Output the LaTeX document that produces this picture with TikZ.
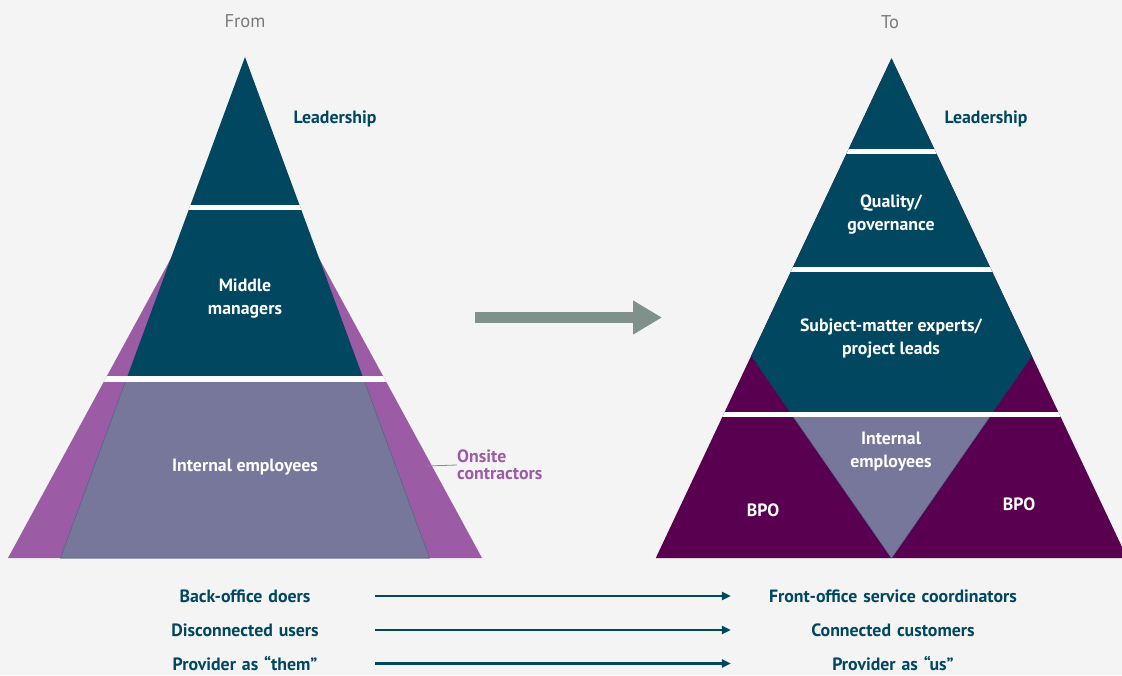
\documentclass[tikz,border=0pt]{standalone}
\usepackage{fontspec}
\setmainfont{PT Sans}
\usetikzlibrary{arrows.meta}

\definecolor{bg}{HTML}{F4F4F4}
\definecolor{deepteal}{HTML}{00475F}
\definecolor{onsite}{HTML}{9B5BA5}
\definecolor{lavender}{HTML}{77779B}
\definecolor{bpo}{HTML}{5A0050}
\definecolor{shiftgray}{HTML}{7F918A}
\definecolor{caption}{HTML}{7A7A7A}

\begin{document}
\begin{tikzpicture}[x=1pt, y=-1pt, >={Triangle[length=9pt,width=8pt]},
    tier/.style={text=white, font=\bfseries\fontsize{17.8}{23}\selectfont, align=center, inner sep=0pt},
    side/.style={text=deepteal, font=\bfseries\fontsize{17.8}{23}\selectfont, inner sep=0pt},
    head/.style={text=caption, font=\fontsize{18.5}{22}\selectfont, inner sep=0pt},
    row/.style={text=deepteal, font=\bfseries\fontsize{17.8}{20}\selectfont, align=center, inner sep=0pt},
    gap/.style={white, line width=5.4pt},
    edge/.style={draw=lavender!75!deepteal, line width=0.6pt}]
    \useasboundingbox (0,0) rectangle (1122,675);
    \fill[bg] (0,0) rectangle (1122,675);

    % from: leadership, middle managers, internal staff + onsite contractors
    \fill[onsite] (245,122) -- (482,558) -- (8,558) -- cycle;
    \fill[deepteal] (245,57) -- (429.5,558) -- (60.5,558) -- cycle;
    \filldraw[fill=lavender, edge] (126.5,378.8) -- (363.5,378.8) -- (429.5,558) -- (60.5,558) -- cycle;
    \begin{scope}
        \clip (245,122) -- (482,558) -- (8,558) -- cycle (245,57) -- (429.5,558) -- (60.5,558) -- cycle;
        \draw[gap] (0,207.3) -- (500,207.3);
        \draw[gap] (0,378.8) -- (500,378.8);
    \end{scope}

    % to: narrower core, BPO on both flanks
    \fill[bpo] (891.5,58.3) -- (1127.2,558) -- (655.8,558) -- cycle;
    \begin{scope}
        \clip (891.5,58.3) -- (1127.2,558) -- (655.8,558) -- cycle;
        \fill[deepteal] (891.5,558) -- (544,58) -- (1239,58) -- cycle;
        \filldraw[fill=lavender, edge] (891.5,558) -- (791.8,414.5) -- (991.2,414.5) -- cycle;
        \foreach \y in {151.7,269.2,414.5}
            \draw[gap] (600,\y) -- (1200,\y);
    \end{scope}

    \node[head] (from) at (245,21) {From};
    \node[head] (to) at (890,22) {To};

    \node[side] (lead1) at (335,119) {Leadership};
    \node[tier] (mid) at (245,299) {Middle\\managers};
    \node[tier] (int1) at (245,467) {Internal employees};
    \node[side, text=onsite, anchor=west, align=left, font=\bfseries\fontsize{17.8}{16.5}\selectfont] (cont) at (457,465) {Onsite\\contractors};
    \coordinate (contpin) at (427,466);
    \draw[shiftgray, line width=0.8pt] (contpin) -- (cont.west);

    \node[side] (lead2) at (986,119) {Leadership};
    \node[tier] (qual) at (891,215) {Quality/\\governance};
    \node[tier] (sme) at (891,338) {Subject-matter experts/\\project leads};
    \node[tier] (int2) at (891,452) {Internal\\employees};
    \node[tier] (bpoL) at (763,510) {BPO};
    \node[tier] (bpoR) at (1019,504) {BPO};

    \coordinate (shiftA) at (475,317.5);
    \coordinate (shiftB) at (662,317.5);
    \draw[shiftgray, line width=11.6pt, -{Triangle[length=29pt,width=32pt]}] (shiftA) -- (shiftB);

    \node[row, text width=260pt] (l1) at (245,596) {Back-office doers};
    \node[row, text width=324pt] (r1) at (893,596) {Front-office service coordinators};
    \node[row, text width=260pt] (l2) at (245,630) {Disconnected users};
    \node[row, text width=324pt] (r2) at (893,630) {Connected customers};
    \node[row, text width=260pt] (l3) at (245,663.5) {Provider as ``them''};
    \node[row, text width=324pt] (r3) at (893,663.5) {Provider as ``us''};
    \draw[deepteal, line width=2.2pt, ->] (l1) -- (r1);
    \draw[deepteal, line width=2.2pt, ->] (l2) -- (r2);
    \draw[deepteal, line width=2.2pt, ->] (l3) -- (r3);
\end{tikzpicture}
\end{document}
